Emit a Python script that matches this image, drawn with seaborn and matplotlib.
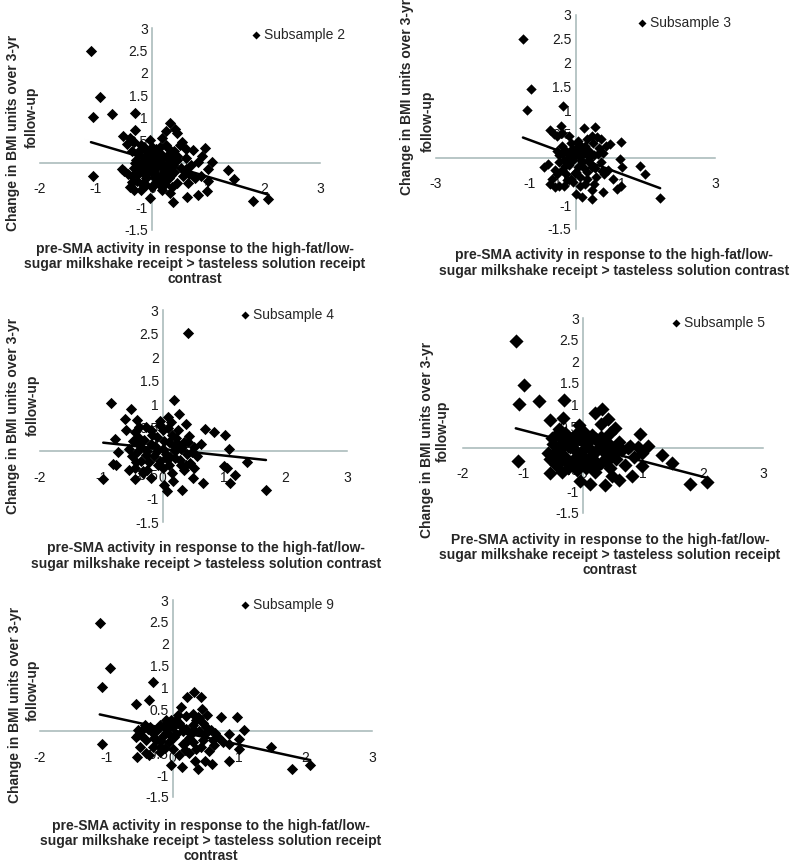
import pandas as pd
import matplotlib.pyplot as plt
import seaborn as sns

# ---- data ----
sub2_x = [-1.09, -0.93, -1.05, -0.72, -0.30, -1.05, -0.30, -0.52, -0.40, -0.45, -0.33, -0.20,
          -0.03, 0.18, 0.25, 0.33, 0.41, 0.44, 0.50, 0.53, 0.60, 0.74, 0.95, 0.40, 0.30, 0.45,
          0.60, 0.83, 1.07, 1.00, 1.36, 1.47, 1.00, 0.98, 0.83, 0.62, 0.38, 0.33, 0.18, -0.03,
          1.80, 2.08, -0.53, -0.50, -0.36, -0.33, -0.18, -0.40,
          -0.25, -0.15, -0.10, 0.00, 0.05, 0.10, 0.15, 0.20, -0.20, -0.05, 0.00, 0.10, 0.20,
          0.25, 0.30, -0.10, -0.25, -0.30, 0.05, 0.15, 0.35, 0.40, 0.45, 0.55, 0.60, -0.15,
          0.00, 0.15, -0.35, 0.25, -0.05, 0.08, -0.12, 0.28, 0.70, 0.65, 0.35, -0.20, 0.00,
          -0.35, -0.10, 0.22, 0.12, -0.08, 0.32,
          -0.28, -0.18, -0.08, 0.02, 0.12, 0.22, 0.32, -0.22, -0.12, -0.02, 0.08, 0.18, 0.28, 0.38,
          -0.32, -0.26, -0.16, 0.04, 0.14, 0.24, 0.34, 0.44, 0.52, 0.66, 0.76, 0.90, 0.88, -0.42]
sub2_y = [2.48, 1.46, 1.01, 1.08, 1.10, -0.30, 0.72, 0.60, 0.55, 0.42, 0.45, 0.40,
          0.50, 0.56, 0.70, 0.88, 0.75, 0.65, 0.40, 0.45, 0.30, 0.29, 0.32, 0.25, 0.30, 0.15,
          0.10, 0.02, 0.02, -0.13, -0.17, -0.36, -0.40, -0.63, -0.71, -0.76, -0.88, -0.67, -0.61, -0.78,
          -0.85, -0.80, -0.13, -0.18, -0.44, -0.61, -0.48, -0.55,
          0.20, 0.10, 0.25, 0.15, 0.05, 0.20, -0.05, 0.10, -0.05, -0.10, -0.20, -0.30, -0.25,
          -0.10, -0.35, -0.35, -0.25, 0.00, -0.45, -0.50, 0.05, -0.20, -0.45, -0.30, -0.15, 0.35,
          0.35, 0.35, 0.25, 0.40, 0.05, -0.12, -0.20, 0.18, -0.05, -0.45, -0.55, -0.60, -0.55,
          -0.30, -0.50, -0.40, 0.00, 0.18, -0.18,
          0.05, -0.15, 0.12, -0.08, 0.10, -0.18, 0.08, 0.28, -0.28, 0.28, 0.30, -0.38, 0.00, -0.05,
          -0.12, -0.40, -0.02, -0.32, 0.22, -0.48, -0.28, 0.05, -0.12, -0.25, -0.35, 0.15, -0.30, -0.25]

sub3_x = [-1.13, -0.96, -1.04, -0.27, -0.32, -0.54, -0.47, -0.40, -0.30, 0.19, 0.43, 0.47,
          0.54, 0.74, 0.97, 0.96, 1.01, 1.38, 1.50, 1.82, 0.97, 0.90, 0.61, 0.60, 0.36, 0.36,
          0.14, 0.00, -0.18, -0.36, -0.68, -0.60, -0.40, -0.50, -0.45, -0.55,
          -0.30, -0.20, -0.10, 0.00, 0.10, 0.20, 0.30, 0.40, 0.50, 0.60, -0.25, -0.15, -0.05,
          0.05, 0.15, 0.25, 0.35, 0.45, 0.55, 0.70, -0.35, -0.30, -0.20, -0.10, 0.10, 0.20,
          0.05, 0.25, 0.35, -0.15, 0.10, -0.25, 0.40, 0.15, -0.05, 0.30, 0.80, 0.65, -0.40, 0.00,
          -0.28, -0.18, -0.08, 0.02, 0.12, 0.22, 0.32, 0.42, -0.22, -0.12, -0.02, 0.08, 0.18, 0.28,
          0.38, -0.35, -0.45, 0.48, 0.58, -0.05, 0.15, 0.25]
sub3_y = [2.49, 1.44, 1.01, 1.08, 0.66, 0.58, 0.50, 0.45, 0.52, 0.63, 0.65, 0.44,
          0.40, 0.28, 0.32, -0.02, -0.20, -0.18, -0.35, -0.85, -0.60, -0.65, -0.34, -0.73, -0.68, -0.87,
          -0.83, -0.76, -0.48, -0.60, -0.20, -0.13, -0.34, -0.45, -0.62, -0.55,
          0.25, 0.15, 0.30, 0.20, 0.10, 0.25, 0.15, 0.05, 0.20, 0.10, -0.05, -0.15, -0.05,
          -0.20, -0.10, -0.30, -0.20, -0.40, -0.10, -0.25, 0.05, -0.25, -0.35, -0.45, -0.40, -0.55,
          0.35, 0.40, 0.45, 0.45, -0.60, -0.60, -0.55, 0.05, 0.10, -0.05, -0.45, 0.25, 0.15, -0.30,
          0.10, -0.02, 0.18, 0.05, -0.05, 0.12, -0.12, -0.22, -0.18, 0.05, -0.32, 0.28, -0.22, 0.02,
          0.30, -0.10, -0.25, 0.08, -0.28, -0.52, 0.18, -0.45]

sub4_x = [0.41, 0.19, -0.84, -0.51, -0.62, -0.42, -0.27, 0.27, -0.05, 0.08, 0.14, 0.38,
          0.68, 0.84, 1.02, 1.08, 1.37, 0.99, 1.05, 1.18, 1.09, 1.68, 0.66, 0.49, 0.32, 0.07,
          0.02, 0.16, -0.97, -0.81, -0.76, -0.73, -0.78, -0.43, -0.46, -0.19, -0.32, 0.62, 0.41, 0.30,
          -0.45, -0.40, -0.35, -0.30, -0.25, -0.20, -0.15, -0.10, -0.05, 0.00, 0.05, 0.10, 0.15,
          0.20, 0.25, 0.30, 0.35, 0.40, 0.45, 0.50, 0.55, -0.55, -0.50, -0.60, -0.35, -0.45,
          -0.25, 0.00, 0.10, 0.20, 0.35, -0.10, -0.55, 0.25, 0.00, -0.20, 0.50, 0.15, -0.05, -0.38,
          -0.38, -0.28, -0.18, -0.08, 0.02, 0.12, 0.22, 0.32, 0.42, -0.48, -0.32, -0.12, 0.08, 0.28,
          0.48, -0.22, 0.18, -0.42, 0.38, 0.05]
sub4_y = [2.51, 1.10, 1.02, 0.89, 0.68, 0.67, 0.52, 0.79, 0.65, 0.72, 0.62, 0.58,
          0.47, 0.41, 0.34, 0.05, -0.23, -0.32, -0.35, -0.51, -0.67, -0.83, -0.67, -0.57, -0.83, -0.85,
          -0.72, -0.62, -0.58, -0.27, -0.30, -0.02, 0.26, -0.23, -0.58, -0.57, -0.45, 0.15, 0.19, 0.05,
          0.40, 0.30, 0.10, 0.25, 0.00, 0.15, -0.10, 0.30, -0.20, 0.05, -0.05, 0.20, 0.35,
          -0.15, 0.45, -0.30, 0.20, -0.05, -0.25, 0.10, -0.10, 0.05, -0.10, 0.45, -0.20, -0.35,
          -0.40, -0.35, -0.30, 0.00, -0.40, 0.00, -0.40, 0.15, 0.45, 0.45, -0.35, -0.45, 0.55, 0.52,
          0.18, -0.08, 0.35, -0.30, 0.22, -0.12, 0.28, 0.10, 0.32, 0.22, -0.42, 0.12, 0.50, -0.18,
          -0.02, -0.22, 0.12, -0.02, -0.30, -0.15]

sub5_x = [-1.12, -0.98, -1.07, -0.73, -0.31, -1.08, 0.31, 0.20, 0.42, -0.07, -0.55, -0.33,
          0.54, 0.95, 0.79, 1.09, 0.99, 1.32, 1.48, 0.99, 0.82, 0.60, 0.37, 0.48, 0.12, -0.05,
          1.79, 2.06, -0.55, -0.58, -0.40, -0.45, 0.30, 0.45, 0.60,
          -0.50, -0.40, -0.35, -0.30, -0.25, -0.20, -0.15, -0.10, -0.05, 0.00, 0.05, 0.10, 0.15,
          0.20, 0.25, 0.30, 0.35, 0.40, 0.45, 0.50, 0.55, 0.65, -0.45, -0.35, -0.25, -0.10,
          0.05, 0.20, -0.30, 0.00, 0.10, 0.25, -0.15, 0.30, 0.70, -0.55, 0.15, -0.05, 0.40, 0.85,
          -0.48, -0.38, -0.28, -0.18, -0.08, 0.02, 0.12, 0.22, 0.32, 0.42, -0.42, -0.22, -0.02, 0.18,
          0.38, -0.32, -0.12, 0.08, 0.28, 0.48, 0.58, 0.75, -0.52, 0.92]
sub5_y = [2.48, 1.45, 1.02, 1.08, 1.11, -0.29, 0.89, 0.80, 0.66, 0.53, 0.65, 0.70,
          0.46, 0.33, 0.04, 0.04, -0.11, -0.15, -0.34, -0.42, -0.65, -0.74, -0.85, -0.65, -0.84, -0.76,
          -0.82, -0.78, -0.57, -0.11, 0.45, 0.30, 0.55, 0.35, 0.15,
          0.10, -0.05, 0.20, -0.20, 0.05, -0.35, 0.15, -0.10, 0.25, -0.05, 0.10, -0.25, 0.30,
          -0.10, 0.15, -0.35, 0.05, -0.20, -0.45, 0.00, -0.25, -0.05, -0.40, -0.55, -0.45, -0.50,
          -0.45, -0.55, 0.35, 0.40, 0.00, -0.40, -0.25, 0.25, -0.40, -0.25, -0.15, -0.30, 0.15, -0.20,
          -0.12, 0.08, -0.32, 0.22, -0.22, 0.28, -0.38, 0.20, -0.05, 0.05, -0.25, 0.02, -0.18, -0.28,
          -0.32, 0.10, 0.32, 0.15, 0.02, -0.12, 0.05, 0.00, 0.22, 0.02]

sub9_x = [-1.10, -0.95, -1.06, -0.30, -0.55, -0.36, 0.32, 0.22, 0.42, 0.12, 0.44, 0.52,
          0.72, 0.97, 1.07, 0.84, 0.99, 1.48, 2.07, 1.80, 1.00, 0.84, 0.59, 0.49, 0.34, 0.38,
          0.14, -0.02, -0.54, -0.36, -1.06, -0.56, -0.52, -0.19, 0.62, 0.63, 0.30, 0.40,
          -0.45, -0.40, -0.35, -0.30, -0.25, -0.20, -0.15, -0.10, -0.05, 0.00, 0.05, 0.10, 0.15,
          0.20, 0.25, 0.30, 0.35, 0.40, 0.45, 0.50, 0.55, -0.50, -0.40, -0.20, 0.00, 0.10,
          0.25, 0.05, -0.10, 0.20, 0.35, -0.25, 0.15, 0.30, 0.45, -0.05, 0.60, 0.75,
          -0.48, -0.38, -0.28, -0.18, -0.08, 0.02, 0.12, 0.22, 0.32, 0.42, -0.42, -0.22, -0.02, 0.18,
          0.38, -0.32, -0.12, 0.08, 0.28, 0.48, 0.58, 0.68, -0.52, 0.85]
sub9_y = [2.48, 1.45, 1.01, 1.12, 0.62, 0.72, 0.89, 0.79, 0.78, 0.56, 0.52, 0.37,
          0.32, 0.33, 0.02, -0.05, -0.17, -0.36, -0.78, -0.86, -0.40, -0.67, -0.75, -0.67, -0.68, -0.86,
          -0.82, -0.78, -0.59, -0.55, -0.28, -0.13, -0.08, -0.48, -0.32, -0.04, 0.40, 0.30,
          0.05, -0.20, 0.10, -0.35, 0.00, 0.15, -0.10, 0.05, -0.25, 0.10, -0.05, 0.20, -0.30,
          0.05, -0.15, 0.15, -0.40, 0.00, -0.20, 0.10, -0.45, -0.35, -0.50, -0.35, -0.40, -0.55,
          -0.50, 0.25, 0.25, 0.35, 0.25, -0.20, 0.00, -0.25, 0.20, -0.05, -0.20, -0.25,
          -0.08, 0.05, -0.15, -0.22, 0.18, -0.12, 0.12, -0.22, 0.02, -0.35, 0.15, 0.08, 0.25, -0.42,
          0.32, -0.02, -0.38, 0.38, -0.05, -0.05, 0.02, -0.12, 0.02, -0.30]

y_ticks = [-1.5, -1, -0.5, 0, 0.5, 1, 1.5, 2, 2.5, 3]
y_tick_labels = ['-1.5', '-1', '-0.5', '0', '0.5', '1', '1.5', '2', '2.5', '3']
x_ticks_a = [-2, -1, 0, 1, 2, 3]
x_ticks_b = [-3, -1, 1, 3]

ylab_1 = 'Change in BMI units over 3-yr'
ylab_2 = 'follow-up'
xlab_3 = ('pre-SMA activity in response to the high-fat/low-\n'
          'sugar milkshake receipt > tasteless solution receipt\ncontrast')
xlab_2 = ('pre-SMA activity in response to the high-fat/low-\n'
          'sugar milkshake receipt > tasteless solution contrast')
xlab_5 = ('Pre-SMA activity in response to the high-fat/low-\n'
          'sugar milkshake receipt > tasteless solution receipt\ncontrast')

sns.set_style("white")
plt.rcParams['font.family'] = ['Liberation Sans', 'DejaVu Sans']
plt.rcParams['axes.unicode_minus'] = False

W, H = 800, 866
fig = plt.figure(figsize=(8, 8.66), dpi=100)
AXIS_COL = '#a4b6b6'


def px_axes(left, top, right, bottom):
    return fig.add_axes([left / W, 1 - bottom / H, (right - left) / W, (bottom - top) / H])


def ftext(x, y, s, **kw):
    # place text with pixel coordinates measured from the top-left corner
    return fig.text(x / W, 1 - y / H, s, fontsize=10, fontweight='bold', **kw)


def panel(box, x, y, name, xlim, xticks, msize, leg_xy, yl1_xy, yl2_xy, xlab, xlab_xy):
    ax = px_axes(*box)
    df = pd.DataFrame({'x': x, 'y': y})
    sns.scatterplot(data=df, x='x', y='y', marker='D', s=msize, color='black',
                    linewidth=0, ax=ax, zorder=3, label=name)
    sns.regplot(data=df, x='x', y='y', scatter=False, ci=None, color='black',
                line_kws=dict(lw=1.8, zorder=4), ax=ax)
    ax.set_xlim(*xlim)
    ax.set_ylim(-1.5, 3)
    ax.set_xticks(xticks)
    ax.set_xticklabels([str(t) for t in xticks])
    ax.set_yticks(y_ticks)
    ax.set_yticklabels(y_tick_labels)
    ax.set_xlabel('')
    ax.set_ylabel('')
    # Excel style: axes cross at zero
    ax.spines[['top', 'right']].set_visible(False)
    for s in ['left', 'bottom']:
        ax.spines[s].set_position(('data', 0))
        ax.spines[s].set_color(AXIS_COL)
        ax.spines[s].set_linewidth(1.1)
    ax.tick_params(axis='both', length=0, labelsize=10, colors='#1a1a1a')
    ax.tick_params(axis='x', pad=14)
    ax.tick_params(axis='y', pad=3)
    ax.patch.set_alpha(0)

    # legend marker about 8 px tip to tip
    mscale = 8.0 / (msize ** 0.5 * 1.414 * 100 / 72)
    ax.legend(loc='center left', bbox_to_anchor=(leg_xy[0] / W, 1 - leg_xy[1] / H),
              bbox_transform=fig.transFigure, frameon=False, fontsize=10,
              handlelength=1.0, handletextpad=0.1, borderpad=0, borderaxespad=0,
              markerscale=mscale)

    ftext(yl1_xy[0], yl1_xy[1], ylab_1, rotation=90, ha='center', va='center')
    ftext(yl2_xy[0], yl2_xy[1], ylab_2, rotation=90, ha='center', va='center')
    ftext(xlab_xy[0], xlab_xy[1], xlab, ha='center', va='center',
          multialignment='center', linespacing=1.1)
    return ax


panel((40, 28, 320, 230), sub2_x, sub2_y, 'Subsample 2', (-2, 3), x_ticks_a, 33,
      (249, 35), (13, 133), (32, 117), xlab_3, (195, 264))
panel((436, 15, 715, 229), sub3_x, sub3_y, 'Subsample 3', (-3, 3), x_ticks_b, 28,
      (635, 23), (407, 97), (428, 121), xlab_2, (614, 263))
panel((40, 310, 347, 522), sub4_x, sub4_y, 'Subsample 4', (-2, 3), x_ticks_a, 33,
      (238, 315), (13, 416), (33, 405), xlab_2, (206, 556))
panel((463, 318, 763, 513), sub5_x, sub5_y, 'Subsample 5', (-2, 3), x_ticks_a, 52,
      (669, 323), (427, 440), (443, 431), xlab_5, (610, 555))
panel((40, 600, 372, 797), sub9_x, sub9_y, 'Subsample 9', (-2, 3), x_ticks_a, 33,
      (238, 605), (15, 705), (33, 690), xlab_3, (211, 841))

fig.savefig('out.png', dpi=100)
